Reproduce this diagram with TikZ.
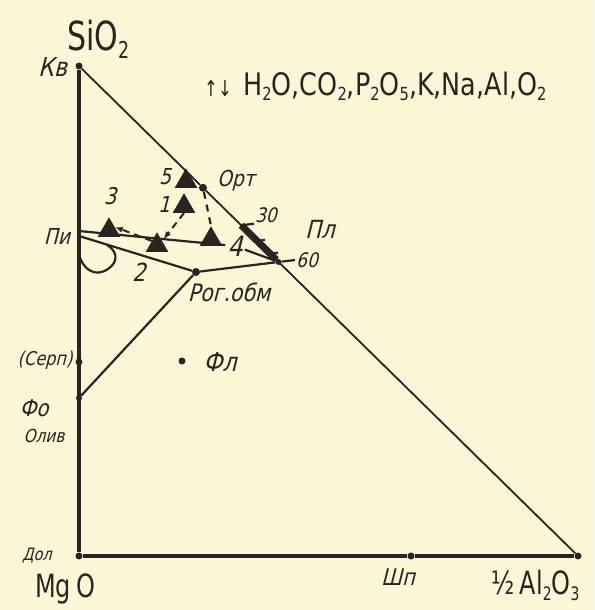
\documentclass[tikz,border=0pt]{standalone}
\usepackage{fontspec}
\usepackage{graphicx}
\usetikzlibrary{arrows.meta,calc,shapes.geometric}

\newfontfamily\gost[FakeStretch=0.75]{DejaVu Sans}
\newfontfamily\gostw[FakeStretch=0.82]{DejaVu Sans}
\newfontfamily\gostit[FakeStretch=0.85,FakeSlant=0.25]{DejaVu Sans}
\definecolor{paper}{RGB}{251,247,214}
\definecolor{ink}{RGB}{42,36,32}
\newcommand{\lo}[1]{\raisebox{-0.35ex}{\scalebox{0.58}{#1}}}

\begin{document}
\begin{tikzpicture}[x=1pt, y=-1pt,
  dot/.style={circle, fill=ink, inner sep=0pt, minimum size=7pt},
  tri/.style={regular polygon, regular polygon sides=3, fill=ink, inner sep=0pt, minimum size=26pt, anchor=south},
  lab/.style={font=\gostit\fontsize{#1}{#1}\selectfont, text=ink, inner sep=1pt},
  lab/.default=20,
  formula/.style={font=\gost\fontsize{#1}{#1}\selectfont, text=ink, inner sep=0pt},
  axis/.style={line width=3.4pt, ink},
  edge/.style={line width=2.2pt, ink},
  trend/.style={line width=2pt, ink, dash pattern=on 7pt off 5pt, -{Latex[length=8pt,width=6pt]}}
]
\fill[paper] (0,0) rectangle (594,610);

% corners and mineral points
\node[dot] (kv) at (79,66) {};
\node[dot] (dol) at (79,556) {};
\node[dot] (al) at (578,556) {};
\node[dot] (shp) at (411,556) {};
\node[dot] (serp) at (79,362) {};
\node[dot, minimum size=6pt] (fo) at (79,398) {};
\node[dot, minimum size=8pt] (rog) at (196,272) {};
\node[dot] (fl) at (182,361) {};
\node[dot, minimum size=8pt] (ort) at ($(kv)!0.2485!(al)$) {};
\node[dot, minimum size=6pt] (p60) at ($(kv)!0.4!(al)$) {};
\coordinate (b30) at ($(kv)!0.325!(al)$);
\coordinate (pi) at (79,231);
\coordinate (pilo) at (79,236);

% labels
\node[formula=40, anchor=base west] (sio) at (67,51) {SiO\lo{2}};
\node[font=\fontsize{22}{22}\selectfont\gost, text=ink, anchor=base west, inner sep=0pt] (flux) at (204,96) {↑↓};
\node[font=\gostw\fontsize{31}{31}\selectfont, text=ink, anchor=base west, inner sep=0pt] (gas) at (243,95) {H\lo{2}O,CO\lo{2},P\lo{2}O\lo{5},K,Na,Al,O\lo{2}};
\node[formula=32, anchor=base west] (mgo) at (35,597) {Mg\,O};
\node[formula=32, anchor=base west] (alo) at (491,594) {½\,Al\lo{2}O\lo{3}};
\node[lab=26, anchor=base west] (lkv) at (37,77) {Кв};
\node[lab=22, anchor=base west] (lort) at (216,186) {Орт};
\node[lab=25] (lpl) at (320,229) {Пл};
\node[lab=22] (lpi) at (57,236) {Пи};
\node[lab=19] (lserp) at (45,360) {(Серп)};
\node[lab=23] (lfo) at (34,408) {Фо};
\node[lab=18] (lol) at (44,436) {Олив};
\node[lab=17] (ldol) at (37,556) {Дол};
\node[lab=23] (lshp) at (398,577) {Шп};
\node[lab=24] (lrog) at (229,292) {Рог.обм};
\node[lab=26] (lfl) at (220,362) {Фл};
\node[lab=20] (l30) at (266,215) {30};
\node[lab=20] (l60) at (307,260) {60};
\node[lab=22] (n5) at (165,177) {5};
\node[lab=22] (n1) at (164,204) {1};
\node[lab=23] (n3) at (110,196) {3};
\node[lab=25] (n2) at (139,272) {2};
\node[lab=28, fill=paper, inner sep=2pt] (n4) at (235,246) {4};

% frame of the diagram
\draw[axis] (kv) -- (dol);
\draw[axis] (dol) -- (shp);
\draw[axis] (shp) -- (al);
\draw[edge, line width=1.8pt] (kv) -- (ort);
\draw[edge, line width=1.8pt] (ort) -- (al);

% plagioclase band 30--60
\draw[line width=7pt, ink, shift={(-2,2)}] (b30) -- (p60);
\draw[edge] (b30) -- (l30.south west);
\draw[edge] (p60) -- (l60.west);
\foreach \f in {0.357,0.383}
  \draw[edge] ($(kv)!\f!(al)$) -- ++(8,-1);

% tie lines
\draw[edge] (fo) -- (rog);
\draw[edge] (rog) -- (p60);
\draw[edge] (pilo) -- (rog);
\draw[edge] (pi) -- (n4);
\draw[edge] (n4) -- (p60);
\draw[edge] (pilo) .. controls (74,264) and (92,280) .. (108,269)
  .. controls (120,261) and (116,250) .. (107,245);

% rock compositions
\node[tri] (t5) at (186,188) {};
\node[tri] (t1) at (184,213) {};
\node[tri] (t3) at (109,237) {};
\node[tri] (t2) at (157,252) {};
\node[tri] (t4) at (211,246) {};

% trends
\draw[trend] (t2.140) -- (t3.30);
\draw[trend, shorten >=2pt] (t1.south) -- (t2.40);
\draw[edge, dash pattern=on 7pt off 6pt] (ort) -- (t4.north);

\end{tikzpicture}
\end{document}
